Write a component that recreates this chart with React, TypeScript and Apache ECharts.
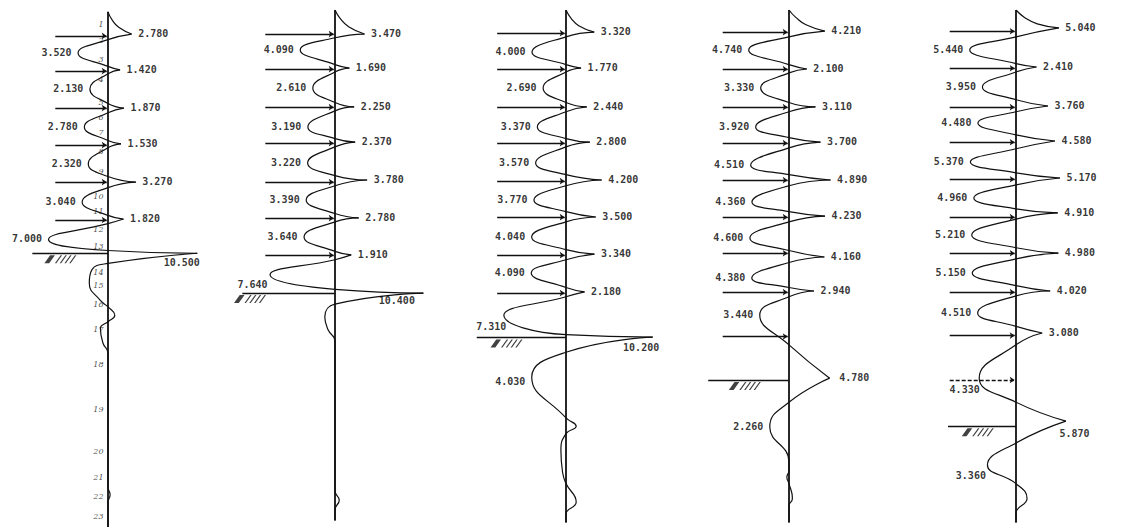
import React, { useEffect, useRef } from "react";
import * as echarts from "echarts";

type Pt = [number, number]; // [bending moment, depth m]

// ---------------- Panel 1 ----------------
const P1_TOP: Pt[] = [[0, 0.1], [0.5, 0.55], [1.3, 0.95]];
const P1_PEAKS: Pt[] = [[2.78, 1.3], [1.42, 3.24], [1.87, 5.3], [1.53, 7.24], [3.27, 9.3], [1.82, 11.3], [10.5, 13.15]];
const P1_LOBES: Pt[] = [[-3.52, 2.32], [-2.13, 4.27], [-2.78, 6.32], [-2.32, 8.32], [-3.04, 10.38], [-7.0, 12.4]];
const P1_ZEROS: number[] = [1.6, 3.05, 3.45, 5.05, 5.55, 7.05, 7.45, 9.0, 9.6, 11.1, 11.55, 13.0];
const P1_TAIL: Pt[] = [[0, 13.7], [-1.9, 14.05], [-2.2, 14.76], [-0.9, 15.7], [0, 16.05], [0.8, 16.5], [0, 16.85], [-0.9, 17.2], [-0.6, 18.0], [0, 18.55], [0, 25.8], [0.25, 26.2], [0, 26.6], [0, 27.95]];
const P1_STRUTS: number[] = [1.4, 3.3, 5.3, 7.3, 9.3, 11.35];
const P1_GROUND = 13.15;
const P1_NODES: number[] = [0.8, 1.7, 2.7, 3.8, 5.0, 5.85, 6.65, 7.7, 8.75, 10.1, 10.9, 11.9, 12.8, 14.2, 14.9, 15.95, 17.3, 19.2, 21.6, 23.9, 25.3, 26.3, 27.4];

// ---------------- Panel 2 ----------------
const P2_TOP: Pt[] = [[0, 0], [0.6, 0.45], [1.6, 0.9]];
const P2_PEAKS: Pt[] = [[3.47, 1.3], [1.69, 3.14], [2.25, 5.24], [2.37, 7.14], [3.78, 9.19], [2.78, 11.24], [1.91, 13.24], [10.4, 15.3]];
const P2_LOBES: Pt[] = [[-4.09, 2.16], [-2.61, 4.22], [-3.19, 6.32], [-3.22, 8.27], [-3.39, 10.27], [-3.64, 12.27], [-7.64, 14.3]];
const P2_ZEROS: number[] = [1.5, 2.95, 3.35, 5.0, 5.45, 6.95, 7.4, 8.95, 9.5, 11.0, 11.45, 13.05, 13.5, 15.1];
const P2_TAIL: Pt[] = [[0, 15.9], [-1.2, 16.6], [-0.8, 17.3], [0, 17.9], [0, 26.0], [0.5, 26.5], [0, 27.0], [0, 27.6]];
const P2_STRUTS: number[] = [1.3, 3.2, 5.25, 7.2, 9.3, 11.25, 13.25];
const P2_GROUND = 15.3;

// ---------------- Panel 3 ----------------
const P3_TOP: Pt[] = [[0, 0], [0.6, 0.45], [1.5, 0.85]];
const P3_PEAKS: Pt[] = [[3.32, 1.2], [1.77, 3.14], [2.44, 5.24], [2.8, 7.14], [4.2, 9.19], [3.5, 11.19], [3.34, 13.2], [2.18, 15.24], [10.2, 17.68]];
const P3_LOBES: Pt[] = [[-4.0, 2.27], [-2.69, 4.22], [-3.37, 6.32], [-3.57, 8.27], [-3.77, 10.27], [-4.04, 12.27], [-4.09, 14.22], [-7.31, 16.5], [-4.03, 19.85]];
const P3_ZEROS: number[] = [1.45, 2.95, 3.35, 5.0, 5.5, 6.95, 7.4, 8.9, 9.5, 10.9, 11.45, 12.95, 13.5, 15.0, 15.5, 17.55, 18.5, 22.05];
const P3_TAIL: Pt[] = [[1.2, 22.5], [0, 22.9], [-0.6, 23.8], [-0.4, 25.0], [0, 25.6], [1.2, 26.6], [0, 27.25], [0, 27.7]];
const P3_STRUTS: number[] = [1.25, 3.2, 5.25, 7.2, 9.25, 11.2, 13.25, 15.3];
const P3_GROUND = 17.7;

// ---------------- Panel 4 ----------------
const P4_TOP: Pt[] = [[0, 0], [0.8, 0.4], [2.0, 0.8]];
const P4_PEAKS: Pt[] = [[4.21, 1.14], [2.1, 3.19], [3.11, 5.24], [3.7, 7.14], [4.89, 9.19], [4.23, 11.14], [4.16, 13.35], [2.94, 15.19], [4.78, 19.9]];
const P4_LOBES: Pt[] = [[-4.74, 2.16], [-3.33, 4.22], [-3.92, 6.32], [-4.51, 8.38], [-4.36, 10.38], [-4.6, 12.32], [-4.38, 14.49], [-3.44, 16.49], [-2.26, 22.54]];
const P4_ZEROS: number[] = [1.45, 2.95, 3.4, 5.0, 5.5, 6.9, 7.45, 8.9, 9.5, 10.9, 11.45, 13.0, 13.65, 15.0, 15.5, 18.1, 21.2, 24.43];
const P4_TAIL: Pt[] = [[0, 24.9], [-0.25, 25.25], [0, 25.6], [0.4, 26.4], [0, 26.8], [0, 27.7]];
const P4_STRUTS: number[] = [1.2, 3.2, 5.25, 7.2, 9.2, 11.2, 13.15, 15.25, 17.65];
const P4_GROUND = 20.0;

// ---------------- Panel 5 ----------------
const P5_TOP: Pt[] = [[0, 0], [1.0, 0.4], [2.5, 0.75]];
const P5_PEAKS: Pt[] = [[5.04, 0.97], [2.41, 3.08], [3.76, 5.19], [4.58, 7.08], [5.17, 9.08], [4.91, 10.97], [4.98, 13.14], [4.02, 15.19], [3.08, 17.46], [5.87, 22.22]];
const P5_LOBES: Pt[] = [[-5.44, 2.16], [-3.95, 4.16], [-4.48, 6.11], [-5.37, 8.22], [-4.96, 10.16], [-5.21, 12.16], [-5.15, 14.22], [-4.51, 16.38], [-4.33, 19.9], [-3.36, 24.6]];
const P5_ZEROS: number[] = [1.45, 2.9, 3.35, 4.85, 5.5, 6.75, 7.5, 8.8, 9.45, 10.75, 11.3, 12.85, 13.45, 14.9, 15.45, 17.1, 18.1, 21.2, 23.4, 25.6];
const P5_TAIL: Pt[] = [[1.3, 26.4], [0, 27.2], [0, 27.7]];
const P5_STRUTS: number[] = [1.15, 3.15, 5.25, 7.15, 9.15, 11.2, 13.15, 15.25, 17.6, 20.0];
const P5_GROUND = 22.5;

// ---------------- layout / style (not data) ----------------
const INK = "#111";
const FONT = "'DejaVu Sans Mono', 'Liberation Mono', monospace";
type Shift = [number, number, number, "left" | "right"]; // [signed value, dx, dy, align]

const PANELS = [
  { axisPx: 108, top: 0.1, bottom: 27.95, strutLeft: -6.2, groundLeft: -8.9, hatchX: -5.6, topPts: P1_TOP, peaks: P1_PEAKS, lobes: P1_LOBES, zeros: P1_ZEROS, tail: P1_TAIL, struts: P1_STRUTS, ground: P1_GROUND, dashed: [] as number[], shifts: [[10.5, 3, 10, "right"]] as Shift[] },
  { axisPx: 335, top: 0, bottom: 27.6, strutLeft: -8.2, groundLeft: -10.9, hatchX: -10.0, topPts: P2_TOP, peaks: P2_PEAKS, lobes: P2_LOBES, zeros: P2_ZEROS, tail: P2_TAIL, struts: P2_STRUTS, ground: P2_GROUND, dashed: [] as number[], shifts: [[-7.64, -2, 10, "right"], [10.4, -8, 8, "right"]] as Shift[] },
  { axisPx: 566, top: 0, bottom: 27.7, strutLeft: -8.1, groundLeft: -10.5, hatchX: -7.0, topPts: P3_TOP, peaks: P3_PEAKS, lobes: P3_LOBES, zeros: P3_ZEROS, tail: P3_TAIL, struts: P3_STRUTS, ground: P3_GROUND, dashed: [] as number[], shifts: [[-7.31, 3, 12, "right"], [10.2, 7, 11, "right"], [-4.03, -6, 5, "right"]] as Shift[] },
  { axisPx: 789, top: 0, bottom: 27.7, strutLeft: -7.8, groundLeft: -9.5, hatchX: -5.2, topPts: P4_TOP, peaks: P4_PEAKS, lobes: P4_LOBES, zeros: P4_ZEROS, tail: P4_TAIL, struts: P4_STRUTS, ground: P4_GROUND, dashed: [] as number[], shifts: [[4.78, 10, 0, "left"]] as Shift[] },
  { axisPx: 1016, top: 0, bottom: 27.7, strutLeft: -7.8, groundLeft: -8.0, hatchX: -4.5, topPts: P5_TOP, peaks: P5_PEAKS, lobes: P5_LOBES, zeros: P5_ZEROS, tail: P5_TAIL, struts: P5_STRUTS, ground: P5_GROUND, dashed: [20.0], shifts: [[-4.33, 1, 12, "right"], [5.87, -6, 13, "left"], [-3.36, -1, 11, "right"]] as Shift[] },
];

const HATCH =
  "path://M0,9L6,0L11,0L5,9Z M11,9L17,0L18.5,0L12.5,9Z M16,9L22,0L23.5,0L17.5,9Z M21,9L27,0L28.5,0L22.5,9Z M26,9L32,0L33.5,0L27.5,9Z";

function buildSegments(top: Pt[], peaks: Pt[], lobes: Pt[], zeros: number[], tail: Pt[]): Pt[][] {
  const segs: Pt[][] = [[...top, peaks[0]]];
  for (let i = 0; i < peaks.length; i++) {
    const seg: Pt[] = [peaks[i]];
    if (i < lobes.length) seg.push([0, zeros[2 * i]], lobes[i], [0, zeros[2 * i + 1]]);
    if (i + 1 < peaks.length) seg.push(peaks[i + 1]);
    else seg.push(...tail);
    segs.push(seg);
  }
  return segs;
}

function buildOption() {
  const grid: any[] = [];
  const xAxis: any[] = [];
  const yAxis: any[] = [];
  const series: any[] = [];

  PANELS.forEach((p, i) => {
    grid.push({ left: p.axisPx - 102, top: 10, width: 204, height: 518 });
    xAxis.push({ type: "value", gridIndex: i, min: -12, max: 12, show: false });
    yAxis.push({ type: "value", gridIndex: i, min: 0, max: 28, inverse: true, show: false });
    const base = { xAxisIndex: i, yAxisIndex: i, silent: true, animation: false };

    const lines: any[] = p.struts.map((d) => [
      { coord: [p.strutLeft, d], lineStyle: { type: p.dashed.includes(d) ? [4, 2] : "solid" } },
      { coord: [-0.15, d] },
    ]);
    lines.push([{ coord: [p.groundLeft, p.ground], symbol: "none" }, { coord: [0, p.ground], symbol: "none" }]);

    // pile axis with strut & ground lines
    series.push({
      ...base,
      type: "line",
      data: [[0, p.top], [0, p.bottom]],
      symbol: "none",
      lineStyle: { color: INK, width: 1.8 },
      z: 3,
      markLine: {
        silent: true,
        animation: false,
        symbol: ["none", "arrow"],
        symbolSize: 5,
        label: { show: false },
        lineStyle: { color: INK, width: 1.4, type: "solid" },
        itemStyle: { color: INK },
        emphasis: { disabled: true },
        data: lines,
      },
    });

    // moment diagram
    buildSegments(p.topPts, p.peaks, p.lobes, p.zeros, p.tail).forEach((seg) => {
      series.push({
        ...base,
        type: "line",
        data: seg,
        smooth: 0.5,
        symbol: "none",
        lineStyle: { color: INK, width: 1.2 },
        z: 4,
      });
    });

    // value labels
    const labelItems = [...p.peaks, ...p.lobes].map((pt) => {
      const sh = p.shifts.find((s) => s[0] === pt[0]);
      const isPeak = pt[0] > 0;
      const dx = sh ? sh[1] : isPeak ? 7 : -6;
      const dy = sh ? sh[2] : 0;
      const align = sh ? sh[3] : isPeak ? "left" : "right";
      return {
        value: pt,
        label: {
          show: true,
          formatter: Math.abs(pt[0]).toFixed(3),
          position: [dx, dy],
          align,
          verticalAlign: "middle",
        },
      };
    });
    series.push({
      ...base,
      type: "scatter",
      symbolSize: 1,
      itemStyle: { color: "rgba(0,0,0,0)" },
      label: { color: "#000", fontSize: 10, fontWeight: "bold", fontFamily: FONT },
      data: labelItems,
      z: 6,
    });

    // ground hatch
    series.push({
      ...base,
      type: "scatter",
      symbol: HATCH,
      symbolSize: [32, 8],
      symbolOffset: [0, 6],
      itemStyle: { color: INK },
      data: [[p.hatchX, p.ground]],
      z: 5,
    });
  });

  // node numbers on panel 1
  series.push({
    xAxisIndex: 0,
    yAxisIndex: 0,
    silent: true,
    animation: false,
    type: "scatter",
    symbolSize: 1,
    itemStyle: { color: "rgba(0,0,0,0)" },
    data: P1_NODES.map((d, k) => ({
      value: [0, d],
      label: {
        show: true,
        formatter: String(k + 1),
        position: [-4, 0],
        align: "right",
        verticalAlign: "middle",
        color: "#222",
        fontSize: 8,
        fontStyle: "italic",
        fontFamily: "'DejaVu Serif', serif",
      },
    })),
    z: 6,
  });

  return {
    animation: false,
    backgroundColor: "#fff",
    grid,
    xAxis,
    yAxis,
    series,
  };
}

export default function App() {
  const ref = useRef<HTMLDivElement>(null);
  useEffect(() => {
    const chart = echarts.init(ref.current!, null, { renderer: "svg" });
    chart.setOption(buildOption() as any);
    return () => chart.dispose();
  }, []);
  return (
    <div
      ref={ref}
      style={{ position: "fixed", left: 0, top: 0, width: 1126, height: 529, background: "#fff" }}
    />
  );
}
